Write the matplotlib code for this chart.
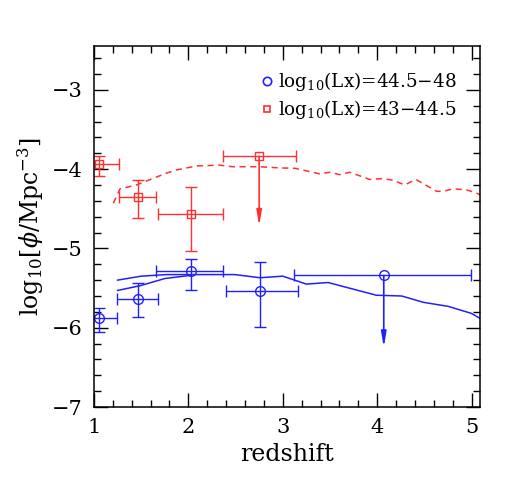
import numpy as np
import matplotlib.pyplot as plt
from matplotlib.ticker import MultipleLocator
from matplotlib.lines import Line2D

plt.rcParams["font.family"] = "DejaVu Serif"
plt.rcParams["mathtext.fontset"] = "dejavuserif"

# high luminosity bin, log10(Lx)=44.5-48
hi_z = [1.055, 1.47, 2.03, 2.76]
hi_phi = [-5.88, -5.64, -5.285, -5.54]
hi_zlo = [0.85, 1.247, 1.66, 2.40]
hi_zhi = [1.24, 1.68, 2.37, 3.16]
hi_plo = [-6.06, -5.86, -5.52, -5.99]
hi_phi_up = [-5.75, -5.43, -5.13, -5.17]
hi_ul_z = [4.07]
hi_ul_phi = [-5.34]
hi_ul_zlo = [3.12]
hi_ul_zhi = [4.99]
hi_ul_to = [-6.25]

# low luminosity bin, log10(Lx)=43-44.5
lo_z = [1.05, 1.47, 2.03]
lo_phi = [-3.94, -4.35, -4.56]
lo_zlo = [0.85, 1.26, 1.68]
lo_zhi = [1.26, 1.66, 2.37]
lo_plo = [-4.09, -4.62, -5.03]
lo_phi_up = [-3.84, -4.14, -4.22]
lo_ul_z = [2.75]
lo_ul_phi = [-3.84]
lo_ul_zlo = [2.37]
lo_ul_zhi = [3.14]
lo_ul_to = [-4.72]

# model curves
blue_z1 = [1.25, 1.5, 1.77, 2.49, 2.76, 3.0, 3.25, 3.48, 3.99, 4.26, 4.49, 4.75, 5.0, 5.1]
blue_p1 = [-5.40, -5.35, -5.33, -5.33, -5.37, -5.35, -5.45, -5.43, -5.59, -5.60, -5.68, -5.73, -5.82, -5.89]
blue_z2 = [1.25, 1.49, 1.75, 2.02]
blue_p2 = [-5.53, -5.47, -5.38, -5.34]
red_z = [1.205, 1.275, 1.45, 1.77, 1.875, 2.09, 2.33, 2.47, 2.75, 2.97, 3.13, 3.39, 3.50, 3.60,
         3.71, 3.92, 4.06, 4.17, 4.29, 4.41, 4.63, 4.70, 4.80, 4.94, 5.05, 5.10]
red_p = [-4.43, -4.25, -4.20, -4.05, -4.01, -3.96, -3.95, -3.97, -3.97, -3.985, -3.99, -4.06, -4.04, -4.07,
         -4.04, -4.13, -4.12, -4.14, -4.20, -4.13, -4.28, -4.28, -4.25, -4.26, -4.30, -4.33]

labels = [r"log$_{10}$(Lx)=44.5$-$48", r"log$_{10}$(Lx)=43$-$44.5"]

blue = "#2020ff"
red = "#ff3030"

fig = plt.figure(figsize=(5.08, 4.91), dpi=100)
ax = fig.add_axes([0.185, 0.171, 0.76, 0.735])

ax.plot(blue_z1, blue_p1, color=blue, lw=1.1)
ax.plot(blue_z2, blue_p2, color=blue, lw=1.1)
ax.plot(red_z, red_p, color=red, lw=1.1, dashes=(4, 3))

def points(z, p, zlo, zhi, plo, pup, color, marker, ms):
    z = np.array(z); p = np.array(p)
    xerr = [z - np.array(zlo), np.array(zhi) - z]
    yerr = [p - np.array(plo), np.array(pup) - p]
    ax.errorbar(z, p, xerr=xerr, yerr=yerr, fmt=marker, mfc="none", mec=color, ecolor=color,
                ms=ms, mew=1.0, elinewidth=1.0, capsize=4, capthick=1.0)

points(hi_z, hi_phi, hi_zlo, hi_zhi, hi_plo, hi_phi_up, blue, "o", 7)
points(lo_z, lo_phi, lo_zlo, lo_zhi, lo_plo, lo_phi_up, red, "s", 6)

def limits(z, p, zlo, zhi, pto, color, marker, ms):
    z = np.array(z); p = np.array(p)
    xerr = [z - np.array(zlo), np.array(zhi) - z]
    ax.errorbar(z, p, xerr=xerr, fmt=marker, mfc="none", mec=color, ecolor=color,
                ms=ms, mew=1.0, elinewidth=1.0, capsize=4, capthick=1.0)
    for zi, pi, ti in zip(z, p, pto):
        ax.annotate("", xy=(zi, ti), xytext=(zi, pi),
                    arrowprops=dict(arrowstyle="-|>,head_length=0.9,head_width=0.15",
                                    color=color, lw=1.2, shrinkA=0, shrinkB=0))

limits(hi_ul_z, hi_ul_phi, hi_ul_zlo, hi_ul_zhi, hi_ul_to, blue, "o", 7)
limits(lo_ul_z, lo_ul_phi, lo_ul_zlo, lo_ul_zhi, lo_ul_to, red, "s", 6)

ax.set_xlim(1, 5.09)
ax.set_ylim(-7, -2.45)
ax.xaxis.set_major_locator(MultipleLocator(1))
ax.xaxis.set_minor_locator(MultipleLocator(0.2))
ax.yaxis.set_major_locator(MultipleLocator(1))
ax.yaxis.set_minor_locator(MultipleLocator(0.2))
ax.tick_params(which="both", direction="in", top=True, right=True, labelsize=15, pad=8)
ax.tick_params(which="major", length=10, width=1)
ax.tick_params(which="minor", length=5, width=1)
for s in ax.spines.values():
    s.set_linewidth(1.1)

ax.set_xlabel("redshift", fontsize=17, labelpad=4)
ax.set_ylabel(r"log$_{10}$[$\phi$/Mpc$^{-3}$]", fontsize=17, labelpad=4)

handles = [Line2D([], [], ls="none", marker="o", mfc="none", mec=blue, ms=6, mew=1.2),
           Line2D([], [], ls="none", marker="s", mfc="none", mec=red, ms=5, mew=1.2)]
ax.legend(handles, labels, loc="upper right", frameon=False, fontsize=13.2, handletextpad=0.1,
          handlelength=1.0, borderaxespad=0.9, labelspacing=0.3)

fig.savefig("out.png", dpi=100)
